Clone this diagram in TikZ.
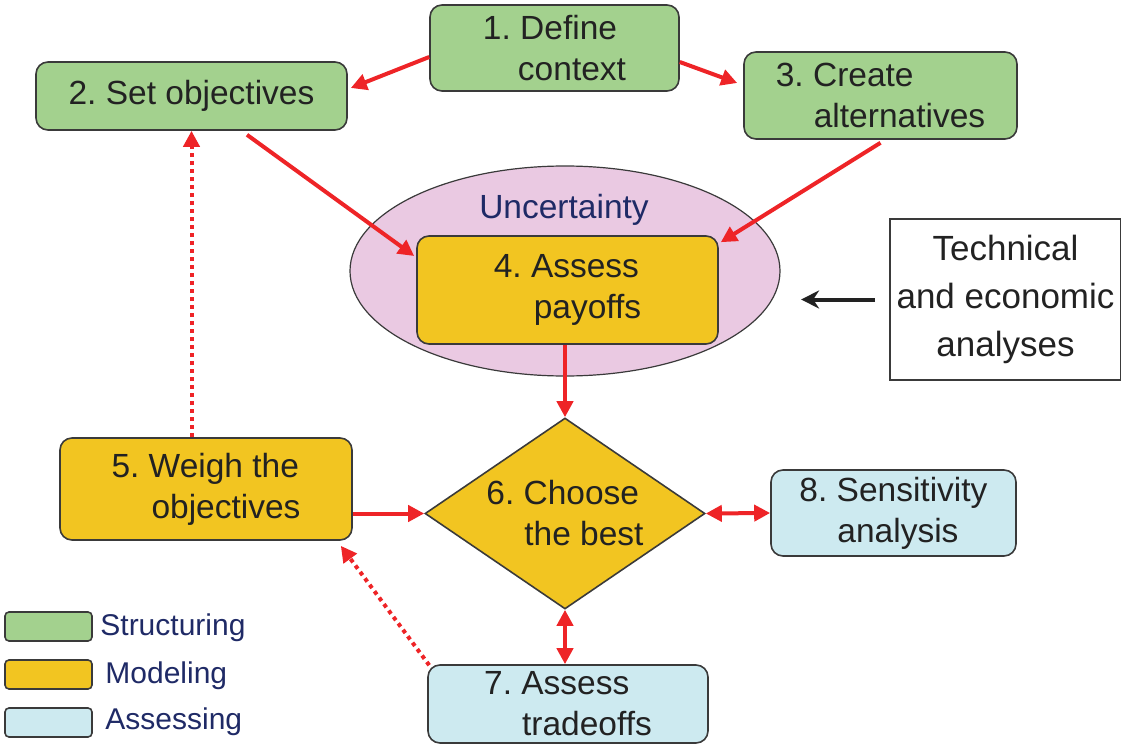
\documentclass[tikz,border=0pt]{standalone}
\usepackage{fontspec}
\setmainfont{Liberation Sans}
\usepackage{xcolor}
\usetikzlibrary{calc,arrows.meta,shapes.geometric}
\definecolor{strc}{HTML}{A3D18E}
\definecolor{modl}{HTML}{F2C521}
\definecolor{asse}{HTML}{CDEAF0}
\definecolor{uncert}{HTML}{EAC9E2}
\definecolor{redline}{HTML}{EE2427}
\definecolor{edge}{HTML}{3A3A3A}
\definecolor{ink}{HTML}{222222}
\definecolor{navy}{HTML}{1F2A66}
\tikzset{
  stage/.style={draw=edge, line width=0.8pt, rounded corners=6pt, inner sep=0pt,
    align=left, text=ink, font=\fontsize{16.75pt}{20.5pt}\selectfont},
  boxg/.style={stage, fill=strc},
  boxy/.style={stage, fill=modl},
  boxb/.style={stage, fill=asse},
  pick/.style={diamond, draw=edge, line width=0.8pt, fill=modl, inner sep=0pt, aspect=1.466,
    align=left, text=ink, font=\fontsize{16.75pt}{20.5pt}\selectfont},
  cloud/.style={ellipse, draw=edge, line width=0.6pt, fill=uncert},
  flow/.style={draw=redline, line width=2pt, -{Triangle[length=8pt,width=8pt]}},
  twoway/.style={flow, {Triangle[length=8pt,width=8pt]}-{Triangle[length=8pt,width=8pt]}},
  feed/.style={flow, dash pattern=on 2pt off 2pt},
  key/.style={draw=edge, line width=0.8pt, rounded corners=2pt, minimum width=43.5pt, minimum height=14.5pt},
  legt/.style={text=navy, anchor=west, inner sep=0pt, font=\fontsize{15pt}{18pt}\selectfont}
}

\begin{document}
\frenchspacing
\begin{tikzpicture}[x=0.5pt, y=-0.5pt]
  \useasboundingbox (0,0) rectangle (1121,744);

  % uncertainty around the payoffs
  \node[cloud, minimum width=215pt, minimum height=105pt] (unc) at (565,271) {};
  \node[text=navy, inner sep=0pt, font=\fontsize{16.75pt}{20.5pt}\selectfont] (unct) at (564,210) {Uncertainty};

  \node[boxg, minimum width=124.5pt, minimum height=43pt] (b1) at (554.5,48) {1. Define\\\hspace*{17.5pt}context};
  \node[boxg, minimum width=155.5pt, minimum height=34pt] (b2) at (191.5,96) {2. Set objectives};
  \node[boxg, minimum width=136.5pt, minimum height=43.5pt] (b3) at (880.5,95.5) {3. Create\\\hspace*{19pt}alternatives};
  \node[boxy, minimum width=150.5pt, minimum height=54pt] (b4) at (567.5,290) {4. Assess\\\hspace*{20pt}payoffs};
  \node[boxy, minimum width=146pt, minimum height=51pt] (b5) at (206,489) {5. Weigh the\\\hspace*{20pt}objectives};
  \node[pick, minimum width=140pt, minimum height=95.5pt] (d6) at (565,513.5) {6. Choose\\\hspace*{19pt}the best};
  \node[boxb, minimum width=140pt, minimum height=39pt] (b7) at (568,704) {7. Assess\\\hspace*{19pt}tradeoffs};
  \node[boxb, minimum width=122.5pt, minimum height=43pt] (b8) at (893.5,513) {8. Sensitivity\\\hspace*{19pt}analysis};

  \node[draw=edge, line width=0.8pt, minimum width=114.5pt, minimum height=80.5pt, align=center,
    text=ink, font=\fontsize{17.5pt}{24pt}\selectfont] (tech) at (1005.5,299.5) {Technical\\and economic\\analyses};

  \draw[flow] ($(b1.west)+(0,9)$) -- ($(b2.east)+(3,-8)$);
  \draw[flow] ($(b1.east)+(0,14)$) -- ($(b3.west)+(-6,-12.5)$);
  \draw[flow] ($(b2.south)+(55.5,4)$) -- ($(b4.west)+(-2,-34)$);
  \draw[flow] ($(b3.south)+(0,3)$) -- ($(b4.north east)+(2,7)$);
  \draw[flow] (d6.north |- b4.south) -- (d6.north);
  \draw[flow] (b5.east |- d6.west) -- (d6.west);
  \draw[twoway] (d6.east) -- (b8.west);
  \draw[twoway] (d6.south) -- (d6.south |- b7.north);
  \draw[feed] (b5.north -| b2.south) -- (b2.south);
  \draw[feed] ($(b7.north west)+(2,1)$) -- ($(b5.south east)+(-12,5)$);

  \coordinate (tip) at ($(tech.west)+(-88,0)$);
  \draw[ink, line width=2pt, -{Stealth[length=9pt,width=9pt]}, shorten <=7pt] (tech.west) -- (tip);

  % legend
  \node[key, fill=strc] (k1) at (48.5,626.5) {};
  \node[key, fill=modl] (k2) at (48.5,674.5) {};
  \node[key, fill=asse] (k3) at (48.5,722.5) {};
  \node[legt] (l1) at (100,628) {Structuring};
  \node[legt] (l2) at (105,676) {Modeling};
  \node[legt] (l3) at (105,722) {Assessing};
\end{tikzpicture}
\end{document}
